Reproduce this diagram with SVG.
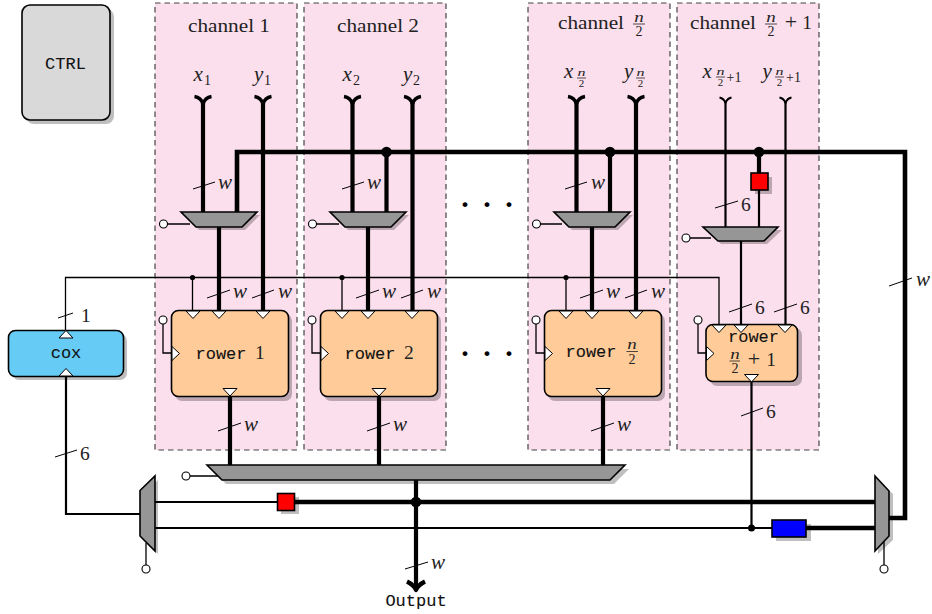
<svg xmlns="http://www.w3.org/2000/svg" width="932" height="614" viewBox="0 0 932 614">
<style>
.ch{fill:#fbdfec;stroke:#444;stroke-width:1.2;stroke-dasharray:5.5 4}
.t{font-family:"Liberation Serif","Times New Roman",serif;font-size:19.5px;fill:#222}
.m{font-family:"Liberation Serif","Times New Roman",serif;font-size:21px;font-style:italic;fill:#222}
.s{font-size:14px}
.xs{font-size:11px}
.tt{font-family:"Liberation Mono","Courier New",monospace;font-size:17px;fill:#111;stroke:#111;stroke-width:.1;text-anchor:middle}
.c{text-anchor:middle}
.sh{fill:#000;opacity:.25}
.box{stroke:#000;stroke-width:1.6}
.orange{fill:#ffcc99}
.mux{fill:#969696;stroke:#000;stroke-width:1.6}
.tri{fill:#fff;stroke:#000;stroke-width:1}
.w1{fill:none;stroke:#000;stroke-width:1.3}
.w2{fill:none;stroke:#000;stroke-width:2.2}
.w4{fill:none;stroke:#000;stroke-width:4.200}
.bus{fill:none;stroke:#000;stroke-width:4.600}
.tk{stroke:#000;stroke-width:1;fill:none}
.ci{fill:#fff;stroke:#000;stroke-width:1.1}
.bar{stroke:#222;stroke-width:.8}
.dots{font-family:"Liberation Serif",serif;font-size:30px;font-weight:bold;fill:#000;text-anchor:middle}
</style>
<defs>
<polygon id="td" class="tri" points="-7,0 7,0 0,7.500"/>
<polygon id="tu" class="tri" points="-7,0 7,0 0,-7.500"/>
<polygon id="tr" class="tri" points="0,-7 7.500,0 0,7"/>
<path id="yt" fill="none" stroke="#000" stroke-width="3.500" stroke-linejoin="round" d="M-8.500,-7.500Q-2,-6.500 0,0Q2,-6.500 8.500,-7.500"/>
<path id="yn" fill="none" stroke="#000" stroke-width="2" stroke-linejoin="round" d="M-6,-5.500Q-1.500,-4.500 0,0Q1.500,-4.500 6,-5.500"/>
</defs>

<g id="channels">
<rect class="ch" x="155" y="3" width="142" height="447"/>
<rect class="ch" x="304" y="3" width="142" height="447"/>
<rect class="ch" x="528" y="3" width="142" height="447"/>
<rect class="ch" x="677" y="3" width="142" height="447"/>
<text class="t" x="188" y="32" textLength="82" lengthAdjust="spacingAndGlyphs">channel 1</text>
<text class="t" x="337" y="32" textLength="82" lengthAdjust="spacingAndGlyphs">channel 2</text>
<text class="t" x="558" y="29" textLength="66" lengthAdjust="spacingAndGlyphs">channel</text>
<text class="m s c" x="639" y="22" textLength="9.500" lengthAdjust="spacingAndGlyphs">n</text><line class="bar" x1="633" y1="24" x2="645" y2="24"/><text class="t s c" x="639" y="36">2</text>
<text class="t" x="690" y="29" textLength="66" lengthAdjust="spacingAndGlyphs">channel</text>
<text class="m s c" x="771" y="22" textLength="9.500" lengthAdjust="spacingAndGlyphs">n</text><line class="bar" x1="765" y1="24" x2="777" y2="24"/><text class="t s c" x="771" y="36">2</text>
<text class="t c" x="791" y="29" style="font-size:22px">+</text><text class="t c" x="807" y="29">1</text>
</g>

<g id="port-labels">
<text class="m" x="193.500" y="81">x</text><text class="t s" x="204" y="85">1</text>
<text class="m" x="254" y="81">y</text><text class="t s" x="264" y="85">1</text>
<text class="m" x="342.500" y="81">x</text><text class="t s" x="353" y="85">2</text>
<text class="m" x="403" y="81">y</text><text class="t s" x="413" y="85">2</text>
<text class="m" x="564" y="78">x</text><text class="m xs c" x="581.500" y="76" textLength="8" lengthAdjust="spacingAndGlyphs">n</text><line class="bar" x1="577" y1="78" x2="586" y2="78"/><text class="t xs c" x="581.500" y="87">2</text>
<text class="m" x="624" y="78">y</text><text class="m xs c" x="640.500" y="76" textLength="8" lengthAdjust="spacingAndGlyphs">n</text><line class="bar" x1="636" y1="78" x2="645" y2="78"/><text class="t xs c" x="640.500" y="87">2</text>
<text class="m" x="702.500" y="78">x</text><text class="m xs c" x="720.500" y="75" textLength="8" lengthAdjust="spacingAndGlyphs">n</text><line class="bar" x1="716" y1="77" x2="725" y2="77"/><text class="t xs c" x="720.500" y="86">2</text><text class="t s" x="726.500" y="82">+1</text>
<text class="m" x="762.500" y="78">y</text><text class="m xs c" x="779.500" y="75" textLength="8" lengthAdjust="spacingAndGlyphs">n</text><line class="bar" x1="775" y1="77" x2="784" y2="77"/><text class="t xs c" x="779.500" y="86">2</text><text class="t s" x="786" y="82">+1</text>
<text class="dots" x="465 487 509" y="214">···</text>
<text class="dots" x="465 487 509" y="363">···</text>
</g>

<g id="connectors">
<path class="w4" d="M203,103V212M263,103V310M352.500,103V212M412.500,103V310M576.500,103V212M636,103V310"/>
<use href="#yt" x="203" y="104"/><use href="#yt" x="263" y="104"/><use href="#yt" x="352.500" y="104"/><use href="#yt" x="412.500" y="104"/><use href="#yt" x="576.500" y="104"/><use href="#yt" x="636" y="104"/>
<path class="w2" d="M725.500,102V227M785.500,102V325M741,241V325"/>
<use href="#yn" x="725.500" y="103"/><use href="#yn" x="785.500" y="103"/>
<path class="bus" d="M237,212V152H905V518H889"/>
<path class="w4" d="M386.500,152V212M610,152V212M759,152V175"/>
<path class="w2" d="M759,190V227"/>
<path class="w4" d="M219,227V310M368,227V310M592,227V310"/>
<path class="w4" d="M230,397V465M379,397V465M603,397V465"/>
<path class="w1" d="M65.500,330V277.500H719V325M192.500,277.500V310M342,277.500V310M566,277.500V310"/>
<path class="w1" d="M163,324V353H171M312,324V353H320M536,324V353H544M698,324V353H706"/>
<path class="w1" d="M167,224H190M316,224H339M540,224H562M690,238H711M190,476H218"/>
<path class="w1" d="M146,543V565M884,542V565"/>
<path class="w2" d="M66,376V514H140M155,502H277M155,528H772M751.500,381V528"/>
<path class="bus" d="M295,502H875M806,528H875"/>
<path class="w4" d="M416,480V589"/>
<path class="w4" stroke-linejoin="round" d="M407,581.500Q414,585 416,590Q418,585 425,581.500"/>
<circle cx="192.500" cy="277.500" r="2.600"/><circle cx="342" cy="277.500" r="2.600"/><circle cx="566" cy="277.500" r="2.600"/>
<circle cx="386.500" cy="152" r="5.300"/><circle cx="610" cy="152" r="5.300"/><circle cx="759" cy="152" r="5.300"/>
<circle cx="416" cy="502" r="5.300"/><circle cx="751.500" cy="528" r="3.500"/>
<path class="tk" d="M193,189L215,182M342,189L364,182M565,189L587,182M715,208L738,201M207,298L230,290M252,298L274,290M356,298L379,290M401,298L423,290M580,298L603,290M625,298L647,290M729,312L752,304M774,312L797,304M218,431L241,423M367,431L390,423M591,431L614,423M741,416L763,408M889,286L912,278M58,318L73,313M55,457L77,450M405,569L428,562"/>
<text class="m" x="218" y="189">w</text><text class="m" x="367" y="189">w</text><text class="m" x="591" y="189">w</text>
<text class="t" x="741" y="211">6</text>
<text class="m" x="233" y="298">w</text><text class="m" x="278" y="298">w</text><text class="m" x="382" y="298">w</text><text class="m" x="427" y="298">w</text><text class="m" x="606" y="298">w</text><text class="m" x="651" y="298">w</text>
<text class="t" x="755" y="314">6</text><text class="t" x="800" y="314">6</text>
<text class="m" x="244" y="431">w</text><text class="m" x="393" y="431">w</text><text class="m" x="617" y="431">w</text>
<text class="t" x="766" y="418">6</text>
<text class="m" x="916" y="286">w</text>
<text class="t" x="81" y="322">1</text><text class="t" x="80" y="460">6</text>
<text class="m" x="431" y="569">w</text>
</g>

<g id="ctrl"><rect class="sh" x="26" y="9" width="88" height="115" rx="8"/><rect class="box" x="22" y="5" width="88" height="115" rx="8" fill="#d9d9d9"/><text class="tt" x="65.500" y="69">CTRL</text></g>

<g id="cox"><rect class="sh" x="12" y="334" width="115" height="46" rx="7"/><rect class="box" x="8.500" y="330.500" width="115" height="46" rx="7" fill="#66ccf5" stroke-width="1.200"/><use href="#tu" x="66" y="338"/><use href="#tu" x="66" y="376"/><text class="tt" x="66" y="358">cox</text></g>

<g id="mux-1"><polygon class="sh" points="184,215 260,215 245,230 199,230"/><polygon class="mux" points="181,212 257,212 242,227 196,227"/><circle class="ci" cx="163.500" cy="224" r="4"/></g>
<g id="mux-2"><polygon class="sh" points="333,215 409,215 394,230 348,230"/><polygon class="mux" points="330,212 406,212 391,227 345,227"/><circle class="ci" cx="312.500" cy="224" r="4"/></g>
<g id="mux-3"><polygon class="sh" points="557,215 633,215 618,230 572,230"/><polygon class="mux" points="554,212 630,212 615,227 569,227"/><circle class="ci" cx="536.500" cy="224" r="4"/></g>
<g id="mux-4"><polygon class="sh" points="706,230 782,230 767,244 721,244"/><polygon class="mux" points="703,227 778,227 764,241 718,241"/><circle class="ci" cx="686" cy="238" r="4"/></g>

<g id="red-reg-1"><rect class="sh" x="755" y="177" width="17" height="17"/><rect class="box" x="751" y="173" width="17" height="17" fill="#f00" stroke-width="1.200"/></g>

<g id="rower-1"><rect class="sh" x="175" y="314" width="117" height="87" rx="7"/><rect class="box orange" x="171.500" y="310.500" width="117" height="86" rx="7"/>
<use href="#td" x="193" y="311"/><use href="#td" x="219" y="311"/><use href="#td" x="263" y="311"/><use href="#tr" x="172" y="353.500"/><use href="#td" x="230" y="388.500"/>
<circle class="ci" cx="163" cy="320" r="4"/><text class="tt" x="221" y="359">rower</text><text class="t" x="255" y="359">1</text></g>
<g id="rower-2"><rect class="sh" x="324" y="314" width="117" height="87" rx="7"/><rect class="box orange" x="320.500" y="310.500" width="117" height="86" rx="7"/>
<use href="#td" x="342" y="311"/><use href="#td" x="368" y="311"/><use href="#td" x="412" y="311"/><use href="#tr" x="321" y="353.500"/><use href="#td" x="379" y="388.500"/>
<circle class="ci" cx="312" cy="320" r="4"/><text class="tt" x="370" y="359">rower</text><text class="t" x="404" y="359">2</text></g>
<g id="rower-3"><rect class="sh" x="548" y="314" width="117" height="87" rx="7"/><rect class="box orange" x="544.500" y="310.500" width="117" height="86" rx="7"/>
<use href="#td" x="566" y="311"/><use href="#td" x="592" y="311"/><use href="#td" x="636" y="311"/><use href="#tr" x="545" y="353.500"/><use href="#td" x="603" y="388.500"/>
<circle class="ci" cx="536" cy="320" r="4"/><text class="tt" x="591" y="357">rower</text><text class="m s c" x="632" y="349" textLength="9.500" lengthAdjust="spacingAndGlyphs">n</text><line class="bar" x1="626.500" y1="351.500" x2="638" y2="351.500"/><text class="t s c" x="632" y="364">2</text></g>
<g id="rower-4"><rect class="sh" x="710" y="328" width="92" height="58" rx="7"/><rect class="box orange" x="706" y="324.500" width="91.500" height="57" rx="7"/>
<use href="#td" x="719" y="325"/><use href="#td" x="741" y="325"/><use href="#td" x="785" y="325"/><use href="#tr" x="706.500" y="353.500"/><use href="#td" x="751.500" y="374.500"/>
<circle class="ci" cx="698" cy="320" r="4"/><text class="tt" x="753.500" y="342">rower</text><text class="m s c" x="735" y="359" textLength="9.500" lengthAdjust="spacingAndGlyphs">n</text><line class="bar" x1="729.500" y1="361" x2="740" y2="361"/><text class="t s c" x="735" y="373">2</text><text class="t c" x="754" y="366" style="font-size:22px">+</text><text class="t c" x="771" y="366">1</text></g>

<g id="mux-bottom"><polygon class="sh" points="211,469 629,469 614,484 226,484"/><polygon class="mux" points="207,465 625,465 610,480 222,480"/><circle class="ci" cx="186" cy="476" r="4"/></g>
<g id="mux-left"><polygon class="sh" points="143,494 158,480 158,554 143,540"/><polygon class="mux" points="140,490.500 155,476 155,551 140,536"/><circle class="ci" cx="146" cy="569" r="4"/></g>
<g id="mux-right"><polygon class="sh" points="878,480 893,494 893,540 878,554"/><polygon class="mux" points="875,476 889,491 889,536 875,551"/><circle class="ci" cx="884" cy="569" r="4"/></g>

<g id="red-reg-2"><rect class="sh" x="281" y="497" width="18" height="17"/><rect class="box" x="277.500" y="493.500" width="17" height="17" fill="#f00" stroke-width="1.200"/></g>
<g id="blue-reg"><rect class="sh" x="776" y="524" width="35" height="17"/><rect class="box" x="772" y="520" width="34" height="17" fill="#00f" stroke-width="1.200"/></g>
<g id="output"><text class="tt" x="416" y="606">Output</text></g>
</svg>
